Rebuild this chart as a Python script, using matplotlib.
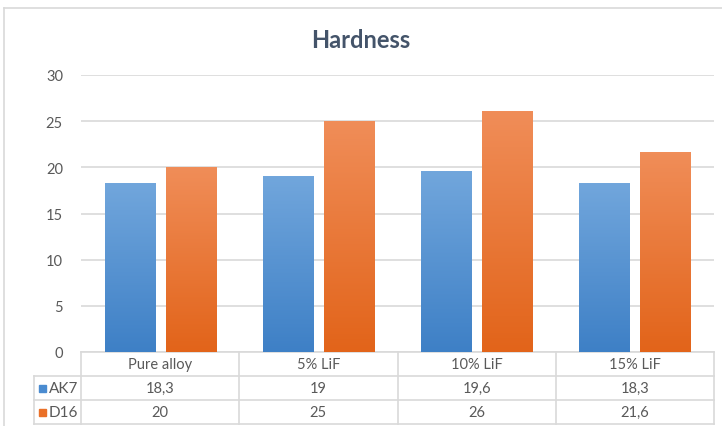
import numpy as np
import matplotlib
matplotlib.use('Agg')
import matplotlib.pyplot as plt
from matplotlib.colors import LinearSegmentedColormap
from matplotlib.patches import Rectangle
import matplotlib.transforms as mtransforms

# Dados
categorias = ['Pure alloy', '5% LiF', '10% LiF', '15% LiF']
series = ['AK7', 'D16']
ak7 = [18.3, 19, 19.6, 18.3]
d16 = [20, 25, 26, 21.6]
rotulos_ak7 = ['18,3', '19', '19,6', '18,3']
rotulos_d16 = ['20', '25', '26', '21,6']

plt.rcParams['font.family'] = ['Lato', 'DejaVu Sans']

COR_GRADE = '#d9d9d9'
COR_TEXTO = '#595959'

fig = plt.figure(figsize=(7.22, 4.27), dpi=100)
ax = fig.add_axes([81 / 722, 1 - 353 / 427, 633 / 722, 277 / 427])

# Gradientes das barras (topo -> base)
cmap_azul = LinearSegmentedColormap.from_list('azul', ['#3e80c6', '#71a6dc'])
cmap_laranja = LinearSegmentedColormap.from_list('laranja', ['#e2641a', '#f08d58'])

x = np.arange(len(categorias))
largura = 0.316
desloc = 0.192

for valores, sinal, cmap in [(ak7, -1, cmap_azul), (d16, 1, cmap_laranja)]:
    barras = ax.bar(x + sinal * desloc, valores, largura, color='none', edgecolor='none', zorder=3)
    for b in barras:
        x0, h = b.get_x(), b.get_height()
        grad = np.linspace(0, 1, 100).reshape(-1, 1)
        ax.imshow(grad, extent=[x0, x0 + b.get_width(), 0, h], origin='lower',
                  cmap=cmap, aspect='auto', zorder=3)

ax.set_xlim(-0.5, len(categorias) - 0.5)
ax.set_ylim(0, 30)
ax.set_yticks(range(0, 31, 5))
ax.yaxis.grid(True, color=COR_GRADE, linewidth=1.2)
ax.set_axisbelow(True)
ax.set_xticks([])
ax.tick_params(axis='y', length=0, pad=13, labelsize=10.5, labelcolor=COR_TEXTO)
for s in ax.spines.values():
    s.set_visible(False)

fig.suptitle('Hardness', x=0.5, y=1 - 40 / 427, va='center', fontsize=17,
             fontweight='bold', color='#44546a')

# Tabela de dados abaixo do grafico
trans = mtransforms.blended_transform_factory(ax.transData, ax.transAxes)
altura_linha = 24 / 277
x_esq = -47 / 633
y_linhas = [0, -altura_linha, -2 * altura_linha, -3 * altura_linha]

# linhas horizontais
ax.plot([-0.5, len(categorias) - 0.5], [0, 0], transform=trans, color=COR_GRADE,
        lw=1.2, clip_on=False)
for y in y_linhas[1:]:
    ax.plot([x_esq, 1], [y, y], transform=ax.transAxes, color=COR_GRADE, lw=1.2, clip_on=False)
# linhas verticais
for xi in np.arange(len(categorias) + 1) - 0.5:
    ax.plot([xi, xi], [0, y_linhas[-1]], transform=trans, color=COR_GRADE, lw=1.2, clip_on=False)
ax.plot([x_esq, x_esq], [y_linhas[1], y_linhas[-1]], transform=ax.transAxes,
        color=COR_GRADE, lw=1.2, clip_on=False)

for i, cat in enumerate(categorias):
    ax.text(i, -0.5 * altura_linha, cat, transform=trans, ha='center', va='center',
            fontsize=10.5, color=COR_TEXTO)
    ax.text(i, -1.5 * altura_linha, rotulos_ak7[i], transform=trans, ha='center',
            va='center', fontsize=10.5, color=COR_TEXTO)
    ax.text(i, -2.5 * altura_linha, rotulos_d16[i], transform=trans, ha='center',
            va='center', fontsize=10.5, color=COR_TEXTO)

for j, (nome, cor) in enumerate(zip(series, ['#4a8bd0', '#ea7028'])):
    yc = -(1.5 + j) * altura_linha
    ax.add_patch(Rectangle((x_esq + 5 / 633, yc - 3.5 / 277), 7 / 633, 7 / 277,
                           transform=ax.transAxes, color=cor, clip_on=False))
    ax.text(x_esq + 15 / 633, yc, nome, transform=ax.transAxes, ha='left', va='center',
            fontsize=11, color=COR_TEXTO)

# borda do grafico
fig.add_artist(plt.Line2D([4 / 722, 1], [1 - 9 / 427, 1 - 9 / 427], color=COR_GRADE, lw=1.2))
fig.add_artist(plt.Line2D([4 / 722, 4 / 722], [0, 1 - 9 / 427], color=COR_GRADE, lw=1.2))

fig.savefig('out.png', dpi=100)
